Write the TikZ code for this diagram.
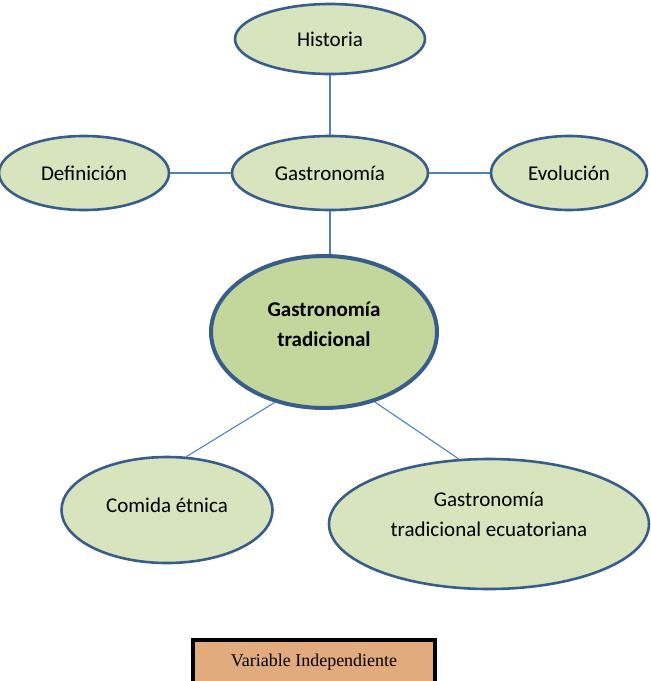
\documentclass[tikz,border=0pt]{standalone}
\usepackage{fontspec}
\setmainfont{Carlito}
\newfontfamily\serifbox{Liberation Serif}
\usepackage{xcolor}
\usepackage{tikz}
\usetikzlibrary{shapes,positioning,calc}

\definecolor{leaffill}{HTML}{D7E4BD}
\definecolor{corefill}{HTML}{C3D69B}
\definecolor{rimblue}{HTML}{385D8A}
\definecolor{linkblue}{HTML}{4F81BD}
\definecolor{tagfill}{HTML}{E2AB7D}

\begin{document}
\begin{tikzpicture}[x=1pt, y=-1pt,
    leaf/.style={ellipse, draw=rimblue, line width=2.6pt, fill=leaffill,
        inner sep=0pt, align=center, font=\fontsize{21}{30}\selectfont},
    core/.style={leaf, fill=corefill, line width=4pt, font=\fontsize{21}{30}\selectfont\bfseries},
    link/.style={draw=linkblue, line width=1.1pt},
    tag/.style={rectangle, draw=black, line width=4pt, fill=tagfill,
        font=\serifbox\fontsize{18}{20}\selectfont}]

    \useasboundingbox (0,0) rectangle (651,681);

    % centre and its four neighbours
    \node[leaf, minimum width=190pt, minimum height=70pt] (hist) at (330,39) {Historia};
    \node[leaf, minimum width=196pt, minimum height=74pt] (gastro) at (330,173) {Gastronomía};
    \node[leaf, minimum width=170pt, minimum height=74pt] (defin) at (84,173) {Definición};
    \node[leaf, minimum width=156pt, minimum height=74pt] (evol) at (569,173) {Evolución};

    % main concept
    \node[core, minimum width=226pt, minimum height=152pt] (trad) at (324,332) {Gastronomía\\tradicional\\[-14pt]};

    % lower branches
    \node[leaf, minimum width=211pt, minimum height=106pt] (etnica) at (167,510) {Comida étnica\\[-20pt]};
    \node[leaf, minimum width=320pt, minimum height=130pt] (ecuad) at (489,524) {Gastronomía\\tradicional ecuatoriana\\[-10pt]};

    \draw[link] (hist) -- (gastro);
    \draw[link] (defin) -- (gastro);
    \draw[link] (gastro) -- (evol);
    \draw[link] (gastro) -- (gastro |- trad.north);
    \draw[link] (trad.235) -- (etnica.70);
    \draw[link] (trad.306) -- (ecuad.115);

    \node[tag, anchor=north, minimum width=242pt, inner xsep=0pt, inner ysep=8pt,
        text height=18pt, text depth=30pt] (var) at (314,638) {Variable Independiente};
\end{tikzpicture}
\end{document}
